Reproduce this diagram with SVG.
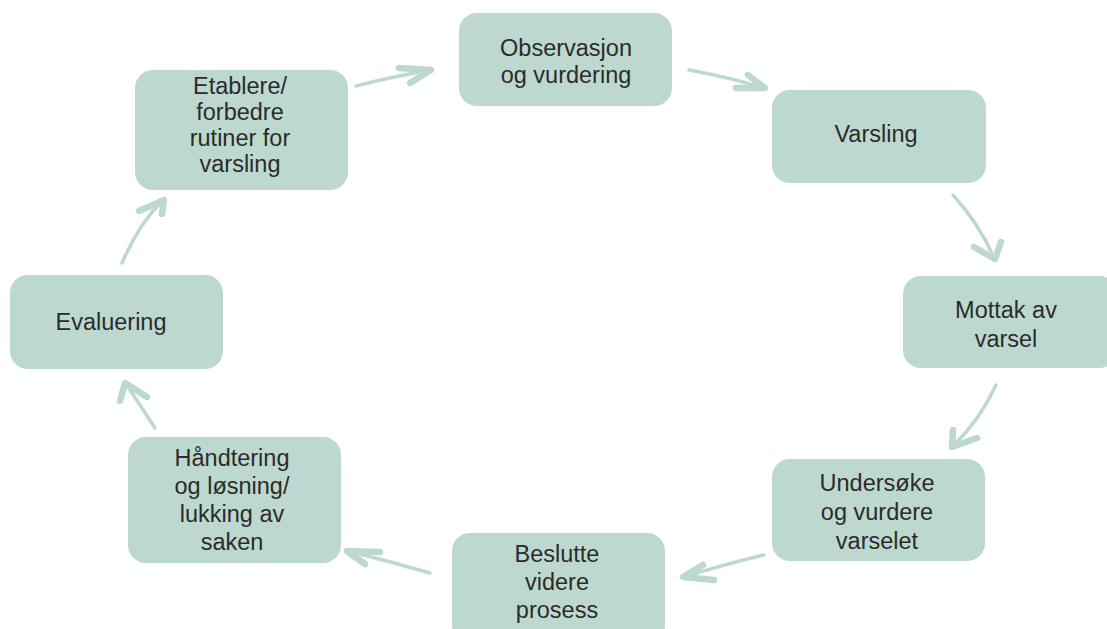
<svg xmlns="http://www.w3.org/2000/svg" width="1107" height="629" viewBox="0 0 1107 629">
<style>
.box{fill:#bdd9cf}
.t{font-family:"Liberation Sans",Arial,sans-serif;font-size:23.5px;fill:#2b2b2b;text-anchor:middle}
.ln{fill:none;stroke:#bdd9cf;stroke-width:3.5;stroke-linecap:round}
.hd{fill:none;stroke:#bdd9cf;stroke-width:6.5;stroke-linecap:round;stroke-linejoin:round}
</style>
<rect width="1107" height="629" fill="#fff"/>
<g id="n-observasjon"><rect class="box" x="459" y="13" width="213" height="93" rx="18"/><text class="t" x="566" y="56">Observasjon</text><text class="t" x="566" y="83">og vurdering</text></g>
<g id="n-varsling"><rect class="box" x="772" y="90" width="214" height="93" rx="18"/><text class="t" x="876" y="142">Varsling</text></g>
<g id="n-mottak"><rect class="box" x="903" y="276" width="214" height="92" rx="18"/><text class="t" x="1006" y="318">Mottak av</text><text class="t" x="1006" y="347">varsel</text></g>
<g id="n-undersoke"><rect class="box" x="772" y="459" width="213" height="102" rx="18"/><text class="t" x="877" y="491">Undersøke</text><text class="t" x="877" y="520">og vurdere</text><text class="t" x="877" y="549">varselet</text></g>
<g id="n-beslutte"><rect class="box" x="452" y="533" width="213" height="110" rx="18"/><text class="t" x="557" y="562">Beslutte</text><text class="t" x="557" y="590">videre</text><text class="t" x="557" y="618">prosess</text></g>
<g id="n-handtering"><rect class="box" x="128" y="437" width="213" height="126" rx="18"/><text class="t" x="232" y="466">Håndtering</text><text class="t" x="232" y="494">og løsning/</text><text class="t" x="232" y="522">lukking av</text><text class="t" x="232" y="550">saken</text></g>
<g id="n-evaluering"><rect class="box" x="10" y="275" width="213" height="94" rx="18"/><text class="t" x="111" y="330">Evaluering</text></g>
<g id="n-etablere"><rect class="box" x="135" y="70" width="213" height="120" rx="18"/><text class="t" x="240" y="94">Etablere/</text><text class="t" x="240" y="120">forbedre</text><text class="t" x="240" y="146">rutiner for</text><text class="t" x="240" y="172">varsling</text></g>
<g id="connectors">
<path class="ln" d="M356,86 Q395,76 431,70"/><path class="hd" d="M399,68 L431,70 L410,83"/>
<path class="ln" d="M689,70 Q728,77 764,88"/><path class="hd" d="M748,75 L765,88 L736,88"/>
<path class="ln" d="M953,195 Q980,225 994,258"/><path class="hd" d="M974,247 L995,259 L1001,242"/>
<path class="ln" d="M996,385 Q980,420 953,446"/><path class="hd" d="M953,430 L952,447 L977,438"/>
<path class="ln" d="M764,555 Q722,565 684,577"/><path class="hd" d="M703,565 L683,577 L714,580"/>
<path class="ln" d="M430,573 Q388,561 348,551"/><path class="hd" d="M380,552 L347,551 L365,564"/>
<path class="ln" d="M155,428 Q140,405 126,384"/><path class="hd" d="M120,401 L125,383 L147,397"/>
<path class="ln" d="M122,263 Q138,225 163,200"/><path class="hd" d="M139,211 L164,200 L162,214"/>
</g>
</svg>
